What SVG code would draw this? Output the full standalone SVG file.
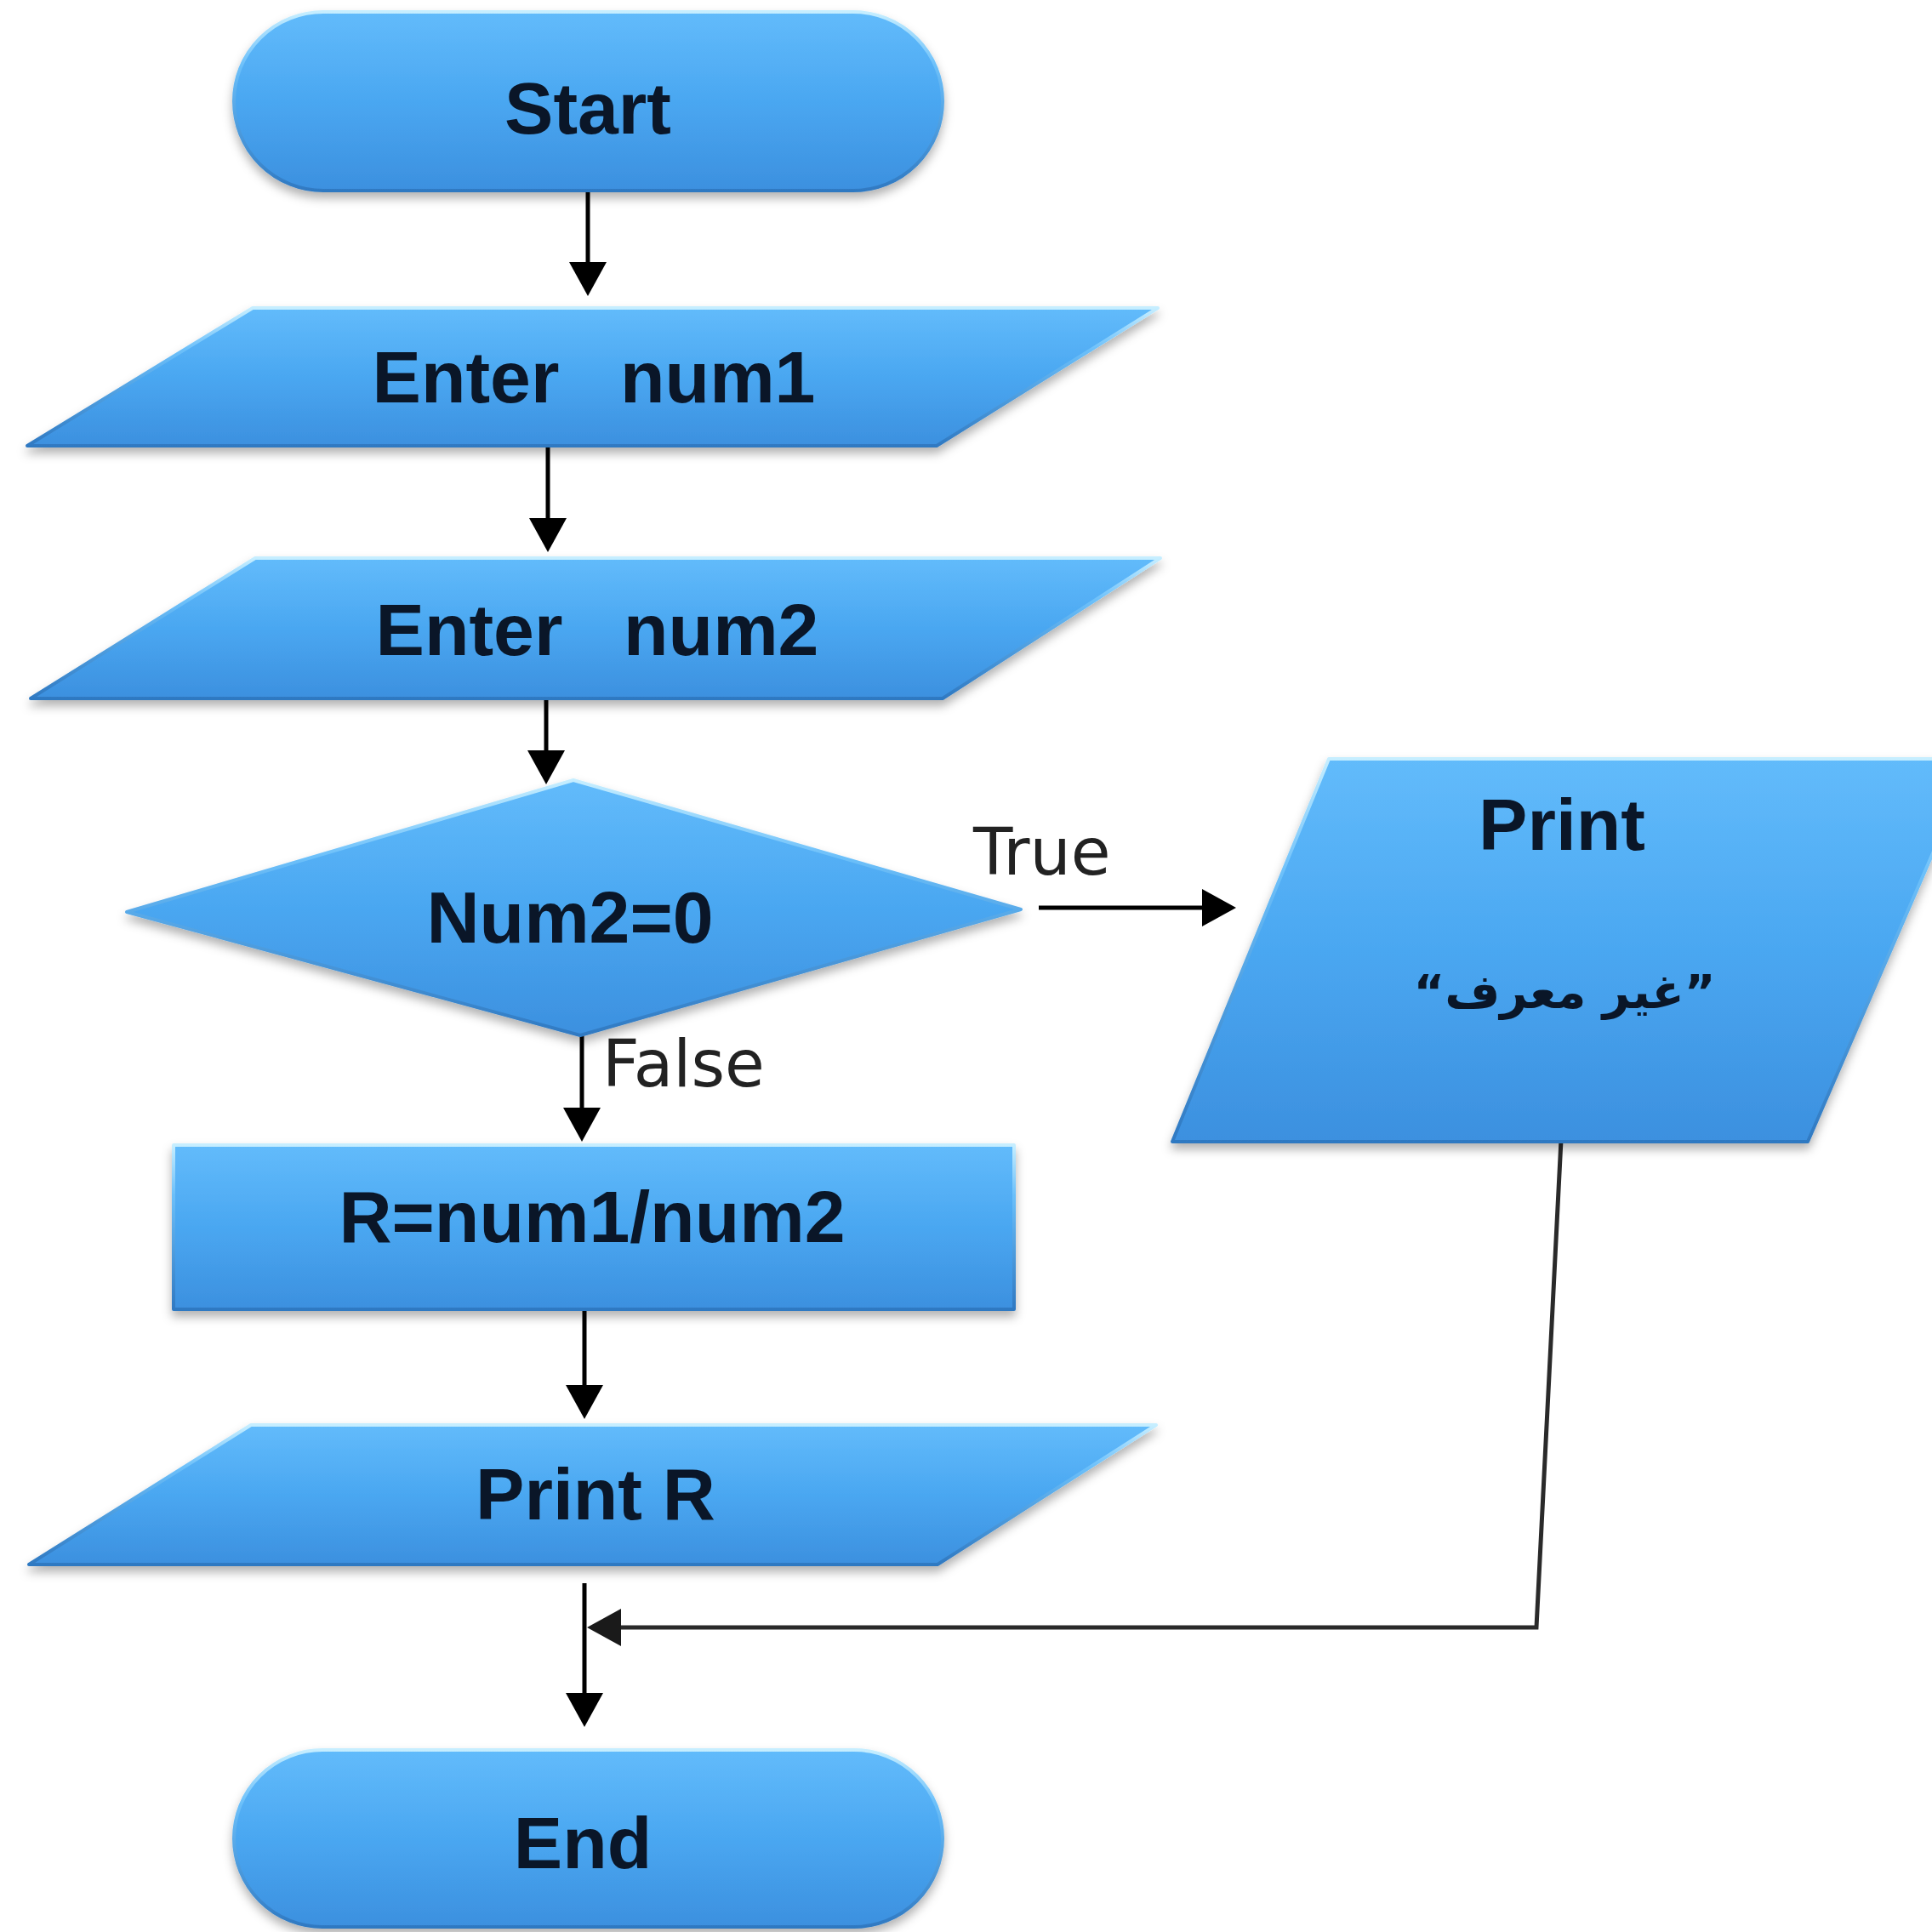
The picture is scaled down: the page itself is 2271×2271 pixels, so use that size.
<svg xmlns="http://www.w3.org/2000/svg" width="2271" height="2271" viewBox="0 0 2271 2271">
<defs>
<linearGradient id="fill" x1="0" y1="0" x2="0" y2="1">
<stop offset="0" stop-color="#62bbfb"/>
<stop offset="0.5" stop-color="#4aa7f1"/>
<stop offset="1" stop-color="#3c90df"/>
</linearGradient>
<linearGradient id="edge" x1="0" y1="0" x2="0" y2="1">
<stop offset="0" stop-color="#c6eeff"/>
<stop offset="0.3" stop-color="#6cc0fa"/>
<stop offset="1" stop-color="#2f79c2"/>
</linearGradient>
<filter id="shadow" x="-10%" y="-10%" width="120%" height="130%">
<feDropShadow dx="0" dy="7" stdDeviation="6" flood-color="#000" flood-opacity="0.3"/>
</filter>
<marker id="arrow" viewBox="0 0 40 44" refX="30" refY="22" markerWidth="40" markerHeight="44" markerUnits="userSpaceOnUse" orient="auto">
<path d="M0,0 L40,22 L0,44 Z" fill="#000"/>
</marker>
<marker id="arrowG" viewBox="0 0 40 44" refX="30" refY="22" markerWidth="40" markerHeight="44" markerUnits="userSpaceOnUse" orient="auto">
<path d="M0,0 L40,22 L0,44 Z" fill="#1a1a1a"/>
</marker>
</defs>
<style>
.shape{fill:url(#fill);stroke:url(#edge);stroke-width:4;stroke-linejoin:round;filter:url(#shadow)}
.lbl{font-family:"Liberation Sans",Arial,sans-serif;font-weight:bold;font-size:86px;fill:#0a1628;text-anchor:middle;white-space:pre}
.edge-lbl{font-family:"DejaVu Sans",sans-serif;font-size:76px;fill:#222}
.ar{font-family:"DejaVu Sans","Noto Sans",sans-serif;font-weight:bold;font-size:56px;fill:#0a1628;text-anchor:middle}
.conn{stroke:#000;stroke-width:5;fill:none}
</style>
<rect width="2271" height="2271" fill="#ffffff"/>

<g id="connectors">
<line class="conn" x1="691" y1="224" x2="691" y2="338" marker-end="url(#arrow)"/>
<line class="conn" x1="644" y1="524" x2="644" y2="639" marker-end="url(#arrow)"/>
<line class="conn" x1="642" y1="797" x2="642" y2="912" marker-end="url(#arrow)"/>
<line class="conn" x1="1221" y1="1067" x2="1443" y2="1067" marker-end="url(#arrow)"/>
<line class="conn" x1="684" y1="1217" x2="684" y2="1332" marker-end="url(#arrow)"/>
<line class="conn" x1="687" y1="1538" x2="687" y2="1658" marker-end="url(#arrow)"/>
<line class="conn" x1="687" y1="1861" x2="687" y2="2020" marker-end="url(#arrow)"/>
<polyline class="conn" points="1835,1340 1806,1913 700,1913" style="stroke:#2a2a2a" marker-end="url(#arrowG)"/>
<text class="edge-lbl" x="1144" y="1028">True</text>
<text class="edge-lbl" x="708" y="1277">False</text>
</g>

<g id="node-start">
<rect class="shape" x="275" y="14" width="833" height="210" rx="105" ry="105"/>
<text class="lbl" x="691" y="157">Start</text>
</g>

<g id="node-num1">
<polygon class="shape" points="297,362 1361,362 1101,524 32,524"/>
<text class="lbl" x="698" y="473" xml:space="preserve">Enter   num1</text>
</g>

<g id="node-num2">
<polygon class="shape" points="300,656 1364,656 1108,821 36,821"/>
<text class="lbl" x="702" y="770" xml:space="preserve">Enter   num2</text>
</g>

<g id="node-decision">
<polygon class="shape" points="149,1072 674,917 1200,1069 682,1217"/>
<text class="lbl" x="670" y="1108">Num2=0</text>
</g>

<g id="node-print-msg">
<polygon class="shape" points="1562,892 2320,892 2125,1342 1378,1342"/>
<text class="lbl" x="1836" y="999">Print</text>
<text class="ar" x="1839" y="1185">“غير معرف”</text>
</g>

<g id="node-calc">
<rect class="shape" x="204" y="1346" width="988" height="193"/>
<text class="lbl" x="696" y="1460">R=num1/num2</text>
</g>

<g id="node-print-r">
<polygon class="shape" points="295,1675 1359,1675 1102,1839 34,1839"/>
<text class="lbl" x="700" y="1786">Print R</text>
</g>

<g id="node-end">
<rect class="shape" x="275" y="2057" width="833" height="208" rx="104" ry="104"/>
<text class="lbl" x="685" y="2196">End</text>
</g>
</svg>
